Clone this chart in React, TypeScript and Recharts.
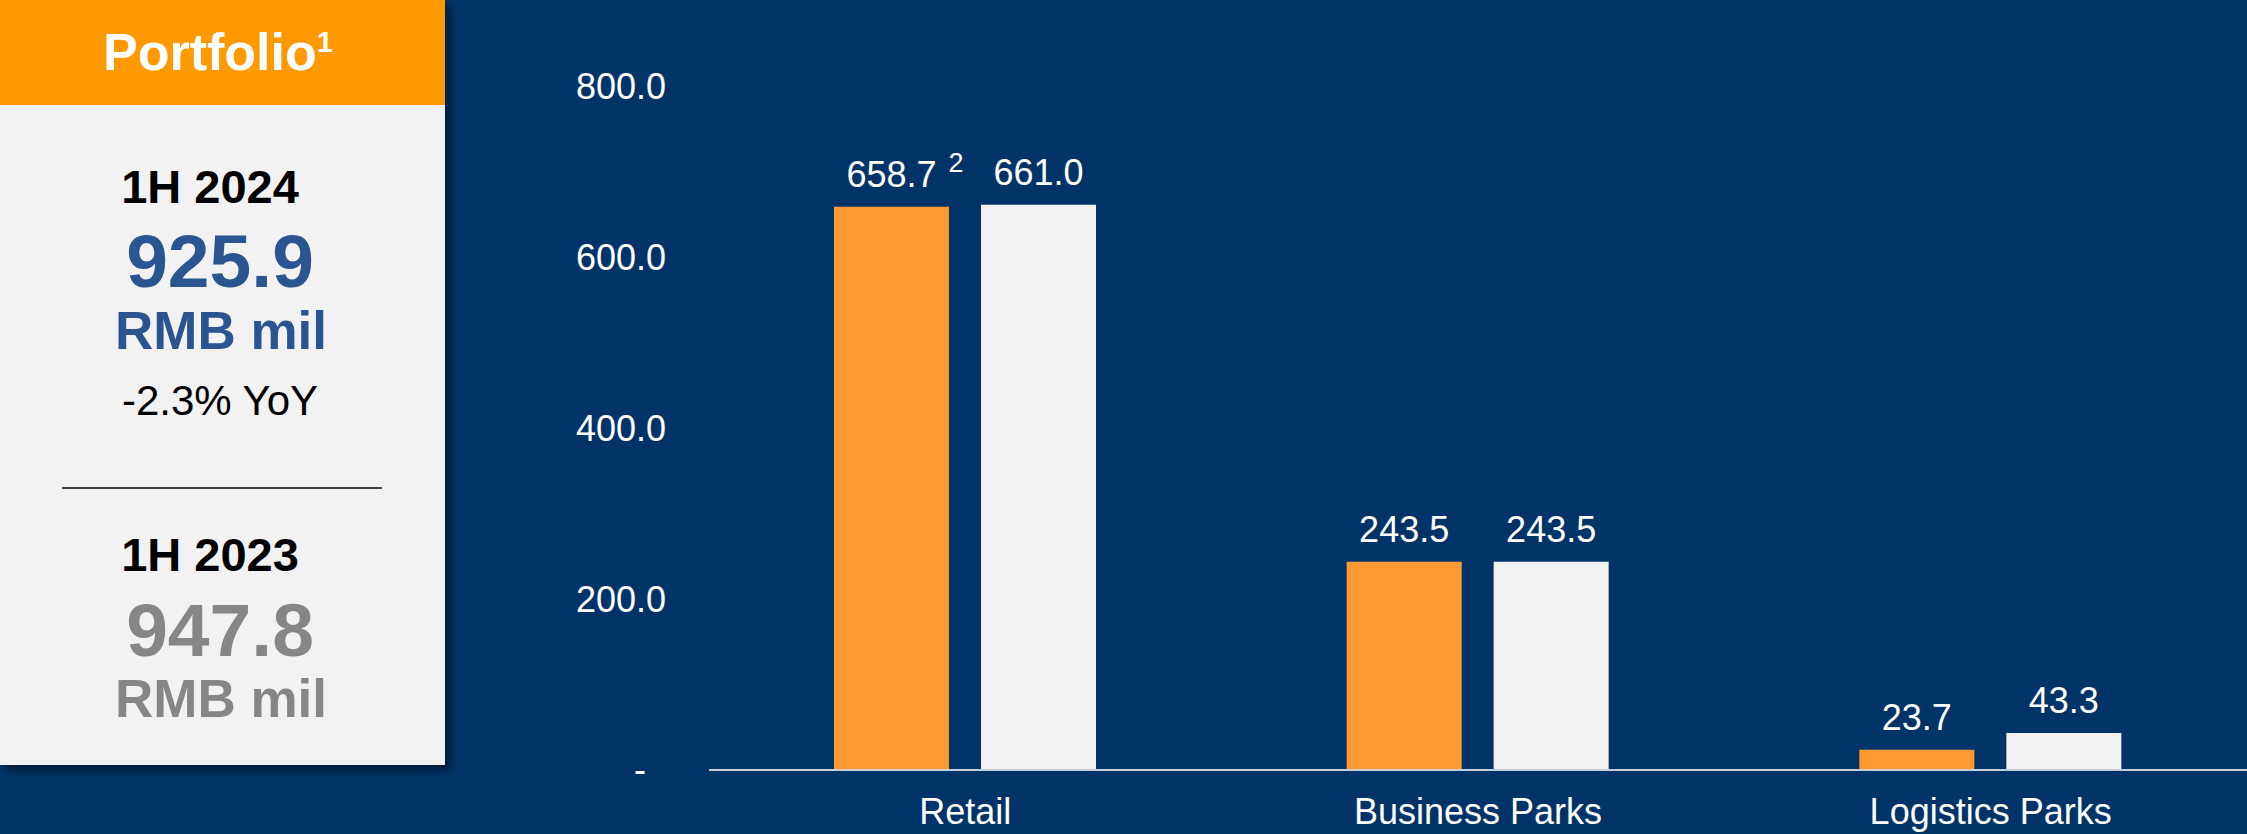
import React from "react";
import { BarChart, Bar, XAxis, YAxis, LabelList } from "recharts";

const categories = ["Retail", "Business Parks", "Logistics Parks"];
const revenue1H2024 = [658.7, 243.5, 23.7];
const revenue1H2023 = [661.0, 243.5, 43.3];
const notes1H2024 = ["2", "", ""];
const yTicks = [0, 200, 400, 600, 800];
const yoyLabel = "-2.3% YoY";

const data = categories.map((name, i) => ({
  name,
  cur: revenue1H2024[i],
  prev: revenue1H2023[i],
}));

const total = (arr: number[]) => arr.reduce((a, b) => a + b, 0).toFixed(1);

const FONT = "'Liberation Sans', Arial, sans-serif";
const BG = "#003468";
const ORANGE = "#FF9933";
const LIGHT = "#F2F2F2";

const ValueLabel = (notes?: string[]) => (props: any) => {
  const { x, y, width, value, index } = props;
  const cx = x + width / 2;
  const note = notes ? notes[index] : "";
  return (
    <g>
      <text x={cx} y={y - 20} textAnchor="middle" fill="#fff" fontSize={36} fontFamily={FONT}>
        {Number(value).toFixed(1)}
      </text>
      {note ? (
        <text x={cx + 57} y={y - 35} textAnchor="start" fill="#fff" fontSize={27} fontFamily={FONT}>
          {note}
        </text>
      ) : null}
    </g>
  );
};

const XTick = (props: any) => {
  const { x, y, payload } = props;
  return (
    <text x={x} y={y + 54} textAnchor="middle" fill="#fff" fontSize={36} fontFamily={FONT}>
      {payload.value}
    </text>
  );
};

const YTick = (props: any) => {
  const { x, y, payload } = props;
  if (payload.value === 0) {
    return (
      <text x={x - 69} y={y + 12} textAnchor="middle" fill="#fff" fontSize={36} fontFamily={FONT}>
        -
      </text>
    );
  }
  return (
    <text x={x - 43} y={y + 13} textAnchor="end" fill="#fff" fontSize={36} fontFamily={FONT}>
      {payload.value.toFixed(1)}
    </text>
  );
};

const Panel = () => (
  <div
    style={{
      position: "absolute",
      left: 0,
      top: 0,
      width: 445,
      height: 765,
      background: LIGHT,
      boxShadow: "5px 5px 8px rgba(0,0,0,0.5)",
    }}
  >
    <svg width={445} height={765} style={{ display: "block" }}>
      <rect x={0} y={0} width={445} height={105} fill="#FF9900" />
      <text x={103} y={70} fill="#fff" fontSize={52} fontWeight={700} fontFamily={FONT}>
        Portfolio
        <tspan fontSize={29} dy={-18}>1</tspan>
      </text>

      <text x={210} y={203} textAnchor="middle" fill="#000" fontSize={47} fontWeight={700} fontFamily={FONT}>
        1H 2024
      </text>
      <text x={220} y={287} textAnchor="middle" fill="#2A5590" fontSize={75} fontWeight={700} fontFamily={FONT}>
        {total(revenue1H2024)}
      </text>
      <text x={221} y={349} textAnchor="middle" fill="#2A5590" fontSize={53} fontWeight={700} fontFamily={FONT}>
        RMB mil
      </text>
      <text x={220} y={415} textAnchor="middle" fill="#000" fontSize={42} fontFamily={FONT}>
        {yoyLabel}
      </text>

      <line x1={62} x2={382} y1={488} y2={488} stroke="#404040" strokeWidth={2} />

      <text x={210} y={571} textAnchor="middle" fill="#000" fontSize={47} fontWeight={700} fontFamily={FONT}>
        1H 2023
      </text>
      <text x={220} y={656} textAnchor="middle" fill="#868686" fontSize={75} fontWeight={700} fontFamily={FONT}>
        {total(revenue1H2023)}
      </text>
      <text x={221} y={717} textAnchor="middle" fill="#868686" fontSize={53} fontWeight={700} fontFamily={FONT}>
        RMB mil
      </text>
    </svg>
  </div>
);

export default function App() {
  return (
    <div
      style={{
        position: "absolute",
        left: 0,
        top: 0,
        width: 2247,
        height: 834,
        background: BG,
        overflow: "hidden",
        fontFamily: FONT,
      }}
    >
      <div style={{ position: "absolute", left: 460, top: 0 }}>
        <BarChart
          width={1787}
          height={834}
          data={data}
          margin={{ top: 86, right: 0, bottom: 0, left: 0 }}
          barGap={32}
        >
          <XAxis
            dataKey="name"
            axisLine={{ stroke: "#C9CDD4", strokeWidth: 2 }}
            tickLine={false}
            tickSize={0}
            tickMargin={0}
            height={64}
            tick={<XTick />}
            interval={0}
          />
          <YAxis
            width={249}
            domain={[0, 800]}
            ticks={yTicks}
            axisLine={false}
            tickLine={false}
            tickSize={0}
            tickMargin={0}
            tick={<YTick />}
            interval={0}
          />
          <Bar dataKey="cur" fill={ORANGE} barSize={115} isAnimationActive={false}>
            <LabelList dataKey="cur" content={ValueLabel(notes1H2024)} />
          </Bar>
          <Bar dataKey="prev" fill={LIGHT} barSize={115} isAnimationActive={false}>
            <LabelList dataKey="prev" content={ValueLabel()} />
          </Bar>
        </BarChart>
      </div>
      <Panel />
    </div>
  );
}
